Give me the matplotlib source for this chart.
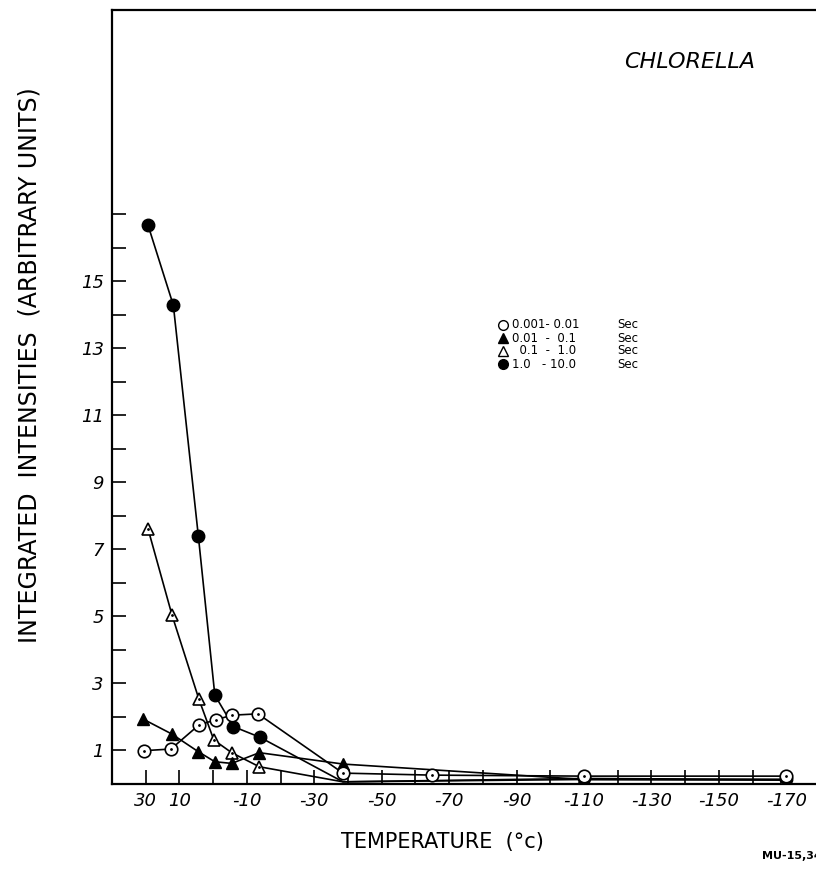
import numpy as np
import matplotlib
matplotlib.use("Agg")
import matplotlib.pyplot as plt

W, H = 816, 886

# 0.001-0.01 sec (open circle with dot)
temps_a = [20.5, 12.5, 4.2, -0.7, -5.6, -13.3, -38.5, -65, -110, -170]
vals_a = [0.98, 1.03, 1.75, 1.9, 2.04, 2.08, 0.31, 0.25, 0.22, 0.22]
# 0.01-0.1 sec (filled triangle)
temps_b = [20.7, 12.3, 4.4, -0.5, -5.5, -13.7, -38.6, -110, -170]
vals_b = [1.92, 1.48, 0.95, 0.65, 0.6, 0.92, 0.58, 0.12, 0.1]
# 0.1-1.0 sec (open triangle with dot)
temps_c = [19.3, 12.2, 4.2, -0.2, -5.5, -13.7, -38.5, -110, -170]
vals_c = [7.6, 5.03, 2.51, 1.3, 0.92, 0.5, 0.05, 0.12, 0.12]
# 1.0-10.0 sec (filled circle)
temps_d = [19.3, 11.8, 4.4, -0.5, -6.0, -13.9, -38.5, -110, -170]
vals_d = [16.67, 14.28, 7.4, 2.64, 1.7, 1.38, 0.05, 0.15, 0.12]

xtick_pos = [20, 10, -10, -30, -50, -70, -90, -110, -130, -150, -170]
xtick_labels = ["30", "10", "-10", "-30", "-50", "-70", "-90", "-110", "-130", "-150", "-170"]
ytick_pos = [1, 3, 5, 7, 9, 11, 13, 15]

legend_labels = ["0.001- 0.01", "0.01  -  0.1", "  0.1  -  1.0", "1.0   - 10.0"]


def fx(x):
    return x / W


def fy(y):
    return 1 - y / H


plt.rcParams["font.family"] = "DejaVu Sans"
fig = plt.figure(figsize=(W / 100, H / 100), dpi=100)
ax = fig.add_axes([fx(112), fy(783.5), fx(820) - fx(112), fy(10) - fy(783.5)])
ax.set_xlim(30, -180)
ax.set_ylim(0, 23.1)

for s in ax.spines.values():
    s.set_linewidth(1.6)

lw = 1.2
ms = 9
ax.plot(temps_d, vals_d, "-o", color="black", lw=lw, ms=ms,
        markevery=[0, 1, 2, 3, 4, 5, 7, 8], zorder=3)
ax.plot(temps_c, vals_c, "-^", color="black", mfc="white", mew=1.2, lw=lw, ms=ms,
        markevery=[0, 1, 2, 3, 4, 5, 7, 8], zorder=3)
ax.plot(temps_c[:6], vals_c[:6], ".", color="black", ms=2, zorder=4)
ax.plot(temps_b, vals_b, "-^", color="black", lw=lw, ms=ms, zorder=3)
ax.plot(temps_a, vals_a, "-o", color="black", mfc="white", mew=1.2, lw=lw, ms=ms, zorder=5)
ax.plot(temps_a, vals_a, ".", color="black", ms=2, zorder=6)

ax.set_xticks(np.arange(20, -180, -10), minor=True)
ax.set_xticks(xtick_pos)
ax.set_xticklabels(xtick_labels, style="italic", fontsize=13)
ax.set_yticks(np.arange(1, 18), minor=True)
ax.set_yticks(ytick_pos)
ax.set_yticklabels([str(v) for v in ytick_pos], style="italic", fontsize=13)
ax.tick_params(which="both", direction="in", length=10, width=1.2)
ax.tick_params(axis="x", pad=6)
ax.tick_params(axis="y", pad=6)

fig.text(fx(30), fy(365), "INTEGRATED  INTENSITIES  (ARBITRARY UNITS)",
         rotation=90, ha="center", va="center", fontsize=17)
fig.text(fx(442), fy(842), "TEMPERATURE  (°c)", ha="center", va="center", fontsize=15)
fig.text(fx(690), fy(62), "CHLORELLA", ha="center", va="center",
         fontsize=16, style="italic")
fig.text(fx(762), fy(856), "MU-15,348", ha="left", va="center",
         fontsize=8, weight="bold")

# key
rows_y = [325, 338, 351, 364]
row_styles = [("o", "white"), ("^", "black"), ("^", "white"), ("o", "black")]
for ry, lab, (m, fc) in zip(rows_y, legend_labels, row_styles):
    ax.plot([fx(503)], [fy(ry)], marker=m, color="black", mfc=fc, mew=1.0, ms=7,
            transform=fig.transFigure, clip_on=False)
    fig.text(fx(512), fy(ry), lab, ha="left", va="center", fontsize=8.5)
    fig.text(fx(617), fy(ry), "Sec", ha="left", va="center", fontsize=8.5)

fig.savefig("out.png", dpi=100)
